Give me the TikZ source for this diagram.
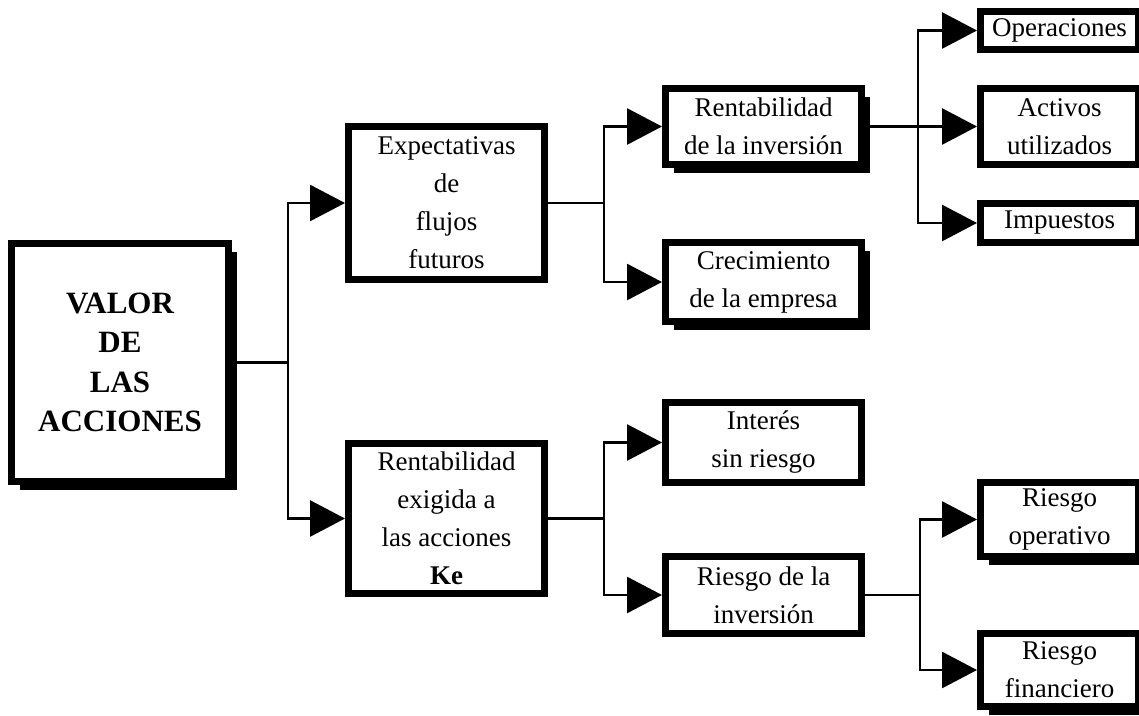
\documentclass[tikz,border=0pt]{standalone}
\usepackage{fontspec}
\setmainfont{Liberation Serif}
\usetikzlibrary{arrows.meta}
\usetikzlibrary{shadows}
\usetikzlibrary{math}

\tikzset{
caja/.style={draw, line width=7pt, fill=white, align=center, inner sep=0pt, font=\fontsize{27}{38}\selectfont},
sombra/.style={drop shadow={shadow xshift=8pt, shadow yshift=-8pt, opacity=1, fill=black}},
flecha/.style={-{Triangle[length=35pt,width=36pt]}, line width=2.8pt},
linea/.style={line width=2.8pt}
}

\begin{document}
\begin{tikzpicture}[x=1pt,y=-1pt]
\tikzmath{
\xa=120; \xb=446.5; \xc=763.5; \xd=1059.5;
}
\useasboundingbox (0,0) rectangle (1139,715);
\clip (0,0) rectangle (1139,715);

\node[caja, sombra, minimum width=217pt, minimum height=238pt, font=\fontsize{31}{39.5}\selectfont\bfseries] (valor) at (\xa,362.5) {VALOR\\DE\\LAS\\ACCIONES};

\node[caja, minimum width=196pt, minimum height=153pt] (expect) at (\xb,203) {Expectativas\\de\\flujos\\futuros};
\node[caja, minimum width=196pt, minimum height=150pt] (exigida) at (\xb,518.5) {Rentabilidad\\exigida a\\las acciones\\\textbf{Ke}};

\node[caja, sombra, minimum width=196pt, minimum height=76pt] (rentinv) at (\xc,126.5) {Rentabilidad\\de la inversión};
\node[caja, sombra, minimum width=196pt, minimum height=79pt] (crec) at (\xc,282) {Crecimiento\\de la empresa};
\node[caja, minimum width=196pt, minimum height=80pt] (interes) at (\xc,442.5) {Interés\\sin riesgo};
\node[caja, minimum width=196pt, minimum height=77pt] (riesgoinv) at (\xc,595) {Riesgo de la\\inversión};

\node[caja, minimum width=158pt, minimum height=38pt] (oper) at (\xd,30.5) {Operaciones};
\node[caja, minimum width=158pt, minimum height=76pt] (activos) at (\xd,126.5) {Activos\\utilizados};
\node[caja, minimum width=158pt, minimum height=39pt] (impuestos) at (\xd,223) {Impuestos};
\node[caja, sombra, minimum width=158pt, minimum height=74pt] (riesgoop) at (\xd,519.5) {Riesgo\\operativo};
\node[caja, sombra, minimum width=158pt, minimum height=73pt] (riesgofin) at (\xd,670) {Riesgo\\financiero};

\draw[linea] (valor.east) -- (288,362.5) coordinate (j1);
\draw[flecha] (j1) |- (expect.west);
\draw[flecha] (j1) |- (exigida.west);

\draw[linea] (expect.east) -- (604,203) coordinate (j2);
\draw[flecha] (j2) |- (rentinv.west);
\draw[flecha] (j2) |- (crec.west);

\draw[linea] (exigida.east) -- (604,518.5) coordinate (j3);
\draw[flecha] (j3) |- (interes.west);
\draw[flecha] (j3) |- (riesgoinv.west);

\draw[linea] (rentinv.east) -- (918,126.5) coordinate (j4);
\draw[flecha] (j4) |- (oper.west);
\draw[flecha] (j4) -- (activos.west);
\draw[flecha] (j4) |- (impuestos.west);

\draw[linea] (riesgoinv.east) -- (920,595) coordinate (j5);
\draw[flecha] (j5) |- (riesgoop.west);
\draw[flecha] (j5) |- (riesgofin.west);
\end{tikzpicture}
\end{document}
